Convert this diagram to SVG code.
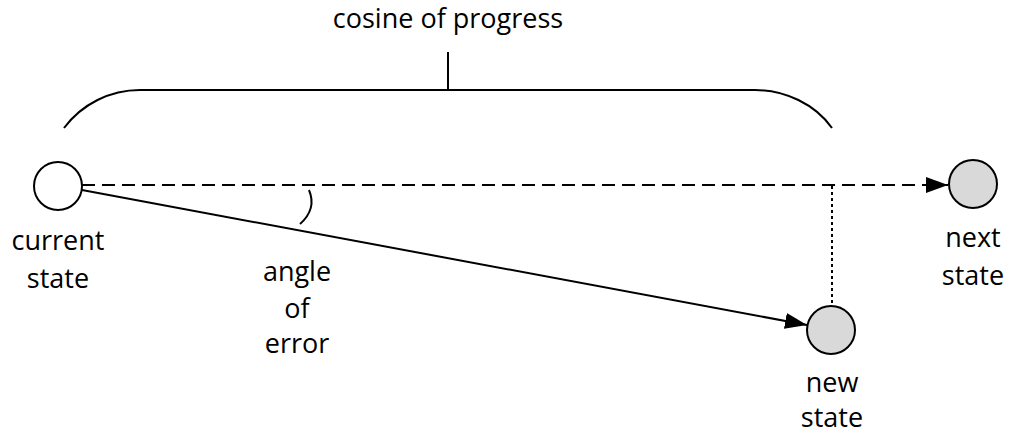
<svg xmlns="http://www.w3.org/2000/svg" width="1010" height="433" viewBox="0 0 1010 433">
  <style>
    .lbl { font-family: "Open Sans", "Liberation Sans", sans-serif; font-size: 27px; fill: #000; text-anchor: middle; }
    .node { stroke: #000; stroke-width: 2; }
    .line { stroke: #000; stroke-width: 2; fill: none; }
  </style>
  <defs>
    <marker id="arrow" markerUnits="userSpaceOnUse" markerWidth="24" markerHeight="16" refX="22" refY="8" orient="auto">
      <path d="M0,0 L22,8 L0,16 Z" fill="#000"/>
    </marker>
  </defs>
  <rect width="1010" height="433" fill="#fff"/>

  <g id="brace">
    <path class="line" d="M64,128 C82,104 110,90 140,90 L755,90 C785,90 815,104 832,128" stroke-width="1.5"/>
    <line class="line" x1="448" y1="52" x2="448" y2="90"/>
    <text class="lbl" x="448" y="28">cosine of progress</text>
  </g>

  <g id="connectors">
    <line class="line" x1="82" y1="185" x2="948" y2="185" stroke-dasharray="13,7" marker-end="url(#arrow)"/>
    <line class="line" x1="82" y1="190" x2="807" y2="325" marker-end="url(#arrow)"/>
    <line class="line" x1="832" y1="186" x2="832" y2="305" stroke-dasharray="3,3"/>
    <path class="line" d="M309,190 Q317,209 300,224"/>
  </g>

  <g id="current-state">
    <circle class="node" cx="58" cy="186" r="24" fill="#fff"/>
    <text class="lbl" x="58" y="250">current</text>
    <text class="lbl" x="58" y="288">state</text>
  </g>

  <g id="next-state">
    <circle class="node" cx="973" cy="184" r="24" fill="#d9d9d9"/>
    <text class="lbl" x="973" y="247">next</text>
    <text class="lbl" x="973" y="285">state</text>
  </g>

  <g id="new-state">
    <circle class="node" cx="831" cy="330" r="24" fill="#d9d9d9"/>
    <text class="lbl" x="832" y="392">new</text>
    <text class="lbl" x="832" y="427">state</text>
  </g>

  <g id="angle-label">
    <text class="lbl" x="297" y="281">angle</text>
    <text class="lbl" x="297" y="318">of</text>
    <text class="lbl" x="297" y="353">error</text>
  </g>
</svg>
